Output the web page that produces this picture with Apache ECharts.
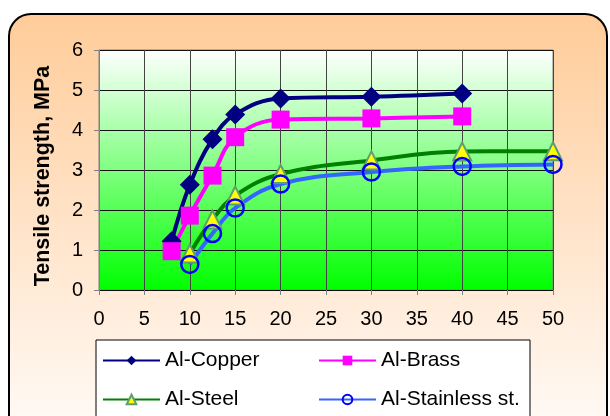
<!DOCTYPE html>
<html><head><meta charset="utf-8">
<script src="https://cdn.jsdelivr.net/npm/echarts@6/dist/echarts.min.js"></script>
<style>html,body{margin:0;padding:0;background:#fff;}#c{width:610px;height:416px;}</style>
</head><body><div id="c"></div>
<script>
const seriesNames = ['Al-Copper', 'Al-Brass', 'Al-Steel', 'Al-Stainless st.'];
const xCopper = [8, 10, 12.5, 15, 20, 30, 40];
const yCopper = [1.22, 2.63, 3.77, 4.39, 4.79, 4.83, 4.91];
const xBrass = [8, 10, 12.5, 15, 20, 30, 40];
const yBrass = [0.97, 1.86, 2.86, 3.82, 4.26, 4.29, 4.34];
const xSteel = [10, 12.5, 15, 20, 30, 40, 50];
const ySteel = [0.91, 1.76, 2.36, 2.9, 3.24, 3.46, 3.47];
const xStainless = [10, 12.5, 15, 20, 30, 40, 50];
const yStainless = [0.64, 1.41, 2.05, 2.65, 2.95, 3.09, 3.14];
const yAxisTitle = 'Tensile strength, MPa';

const pair = (xs, ys) => xs.map((x, i) => [x, ys[i]]);
const FONT = '"Liberation Sans", Arial, sans-serif';

const chart = echarts.init(document.getElementById('c'), null, {renderer: 'canvas'});

function legendAt(name, left, top) {
  return {
    data: [name], left: left, top: top, orient: 'horizontal',
    itemWidth: 57, itemHeight: 12, itemGap: 0, padding: 0,
    textStyle: {fontFamily: FONT, fontSize: 21, color: '#000'},
    selectedMode: false
  };
}

const option = {
  animation: false,
  graphic: [
    {type: 'rect', z: -10, shape: {x: 9, y: 14, width: 598, height: 430, r: 22},
     style: {fill: {type: 'linear', x: 0, y: 0, x2: 0, y2: 1,
       colorStops: [{offset: 0, color: '#FFCC99'}, {offset: 1, color: '#FFFCFA'}]},
       stroke: '#000', lineWidth: 2}},
    {type: 'rect', z: -5, shape: {x: 96, y: 340, width: 434, height: 100},
     style: {fill: '#FFFFFF', stroke: '#000', lineWidth: 1}}
  ],
  grid: {left: 99, top: 50, width: 454, height: 240, show: true,
    backgroundColor: {type: 'linear', x: 0, y: 0, x2: 0, y2: 1,
      colorStops: [{offset: 0, color: '#FFFFFF'}, {offset: 1, color: '#00FF00'}]},
    borderColor: '#808080', borderWidth: 1},
  legend: [
    legendAt(seriesNames[0], 102, 350),
    legendAt(seriesNames[1], 318, 350),
    legendAt(seriesNames[2], 102, 389),
    legendAt(seriesNames[3], 318, 389)
  ],
  xAxis: {type: 'value', min: 0, max: 50, interval: 5,
    axisLine: {show: true, lineStyle: {color: '#000', width: 1}},
    axisTick: {show: true, length: 5, lineStyle: {color: '#808080'}},
    axisLabel: {fontFamily: FONT, fontSize: 20, color: '#000', margin: 19},
    splitLine: {show: true, lineStyle: {color: '#444', width: 1}}},
  yAxis: {type: 'value', min: 0, max: 6, interval: 1,
    name: yAxisTitle, nameLocation: 'middle', nameGap: 45, nameRotate: 90,
    nameTextStyle: {fontFamily: FONT, fontSize: 21.5, fontWeight: 'bold', color: '#000', padding: [0, 12, 0, 0]},
    axisLine: {show: true, lineStyle: {color: '#808080', width: 1}},
    axisTick: {show: true, length: 5, lineStyle: {color: '#808080'}},
    axisLabel: {fontFamily: FONT, fontSize: 20, color: '#000', margin: 16},
    splitLine: {show: true, lineStyle: {color: '#111', width: 1}}},
  series: [
    {name: seriesNames[0], type: 'line', data: pair(xCopper, yCopper), smooth: 0.4,
     symbol: 'diamond', symbolSize: 20,
     lineStyle: {color: '#000080', width: 4}, itemStyle: {color: '#000080', borderWidth: 0}},
    {name: seriesNames[1], type: 'line', data: pair(xBrass, yBrass), smooth: 0.4,
     symbol: 'rect', symbolSize: 18,
     lineStyle: {color: '#FF00FF', width: 4}, itemStyle: {color: '#FF00FF', borderWidth: 0}},
    {name: seriesNames[2], type: 'line', data: pair(xSteel, ySteel), smooth: 0.4,
     symbol: 'triangle', symbolSize: 18,
     lineStyle: {color: '#008000', width: 4}, itemStyle: {color: '#FFFF00', borderColor: '#5E9E6E', borderWidth: 2}},
    {name: seriesNames[3], type: 'line', data: pair(xStainless, yStainless), smooth: 0.4,
     symbol: 'circle', symbolSize: 17,
     lineStyle: {color: '#3366FF', width: 4}, itemStyle: {color: 'rgba(0,0,0,0)', borderColor: '#0000FF', borderWidth: 2.5}}
  ]
};
chart.setOption(option);
</script></body></html>
